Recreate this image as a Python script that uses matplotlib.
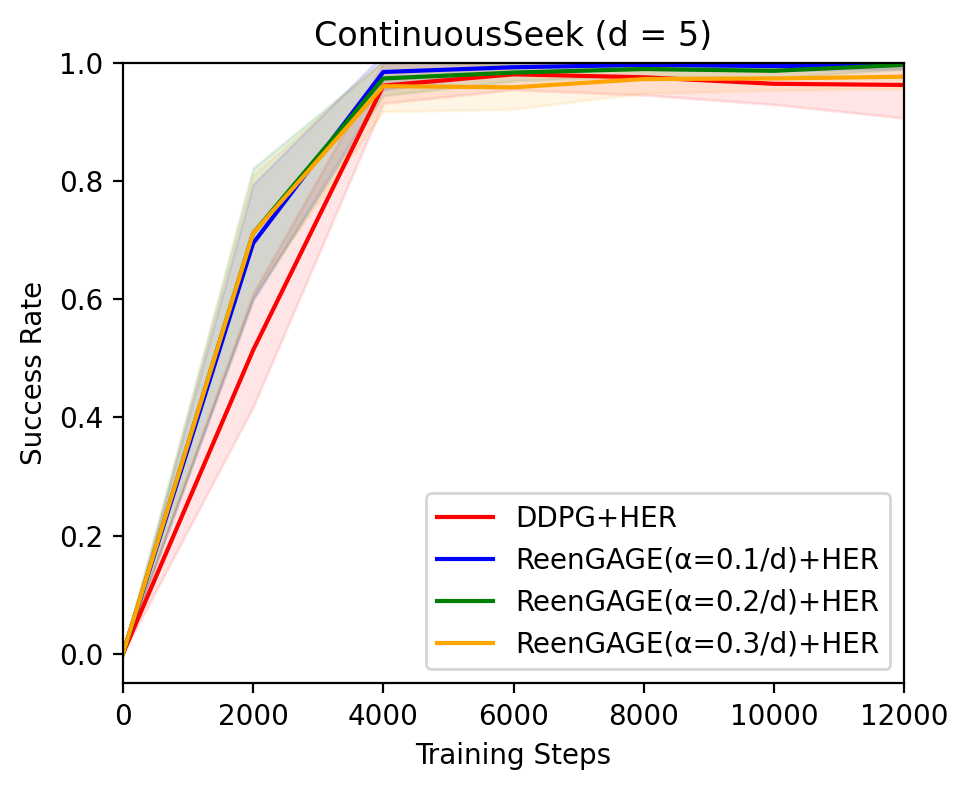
import matplotlib
matplotlib.use("Agg")
import matplotlib.pyplot as plt
import numpy as np

steps = [0, 2000, 4000, 6000, 8000, 10000, 12000]

labels = ["DDPG+HER", "ReenGAGE(α=0.1/d)+HER", "ReenGAGE(α=0.2/d)+HER", "ReenGAGE(α=0.3/d)+HER"]
colors = ["red", "blue", "green", "orange"]

ddpg_mean = [0.0, 0.514, 0.962, 0.981, 0.976, 0.965, 0.963]
ddpg_low = [0.0, 0.418, 0.932, 0.955, 0.946, 0.930, 0.907]
ddpg_high = [0.0, 0.610, 1.000, 1.008, 1.005, 1.000, 1.020]

a1_mean = [0.0, 0.695, 0.985, 0.993, 0.997, 0.995, 0.997]
a1_low = [0.0, 0.600, 0.955, 0.985, 0.990, 0.988, 0.990]
a1_high = [0.0, 0.795, 1.015, 1.003, 1.004, 1.002, 1.004]

a2_mean = [0.0, 0.712, 0.974, 0.984, 0.990, 0.987, 0.997]
a2_low = [0.0, 0.600, 0.945, 0.970, 0.978, 0.975, 0.990]
a2_high = [0.0, 0.822, 1.003, 0.998, 1.002, 0.999, 1.004]

a3_mean = [0.0, 0.712, 0.961, 0.959, 0.973, 0.974, 0.977]
a3_low = [0.0, 0.610, 0.918, 0.922, 0.949, 0.954, 0.957]
a3_high = [0.0, 0.810, 1.004, 0.996, 0.997, 0.994, 0.997]

means = [ddpg_mean, a1_mean, a2_mean, a3_mean]
lows = [ddpg_low, a1_low, a2_low, a3_low]
highs = [ddpg_high, a1_high, a2_high, a3_high]

fig = plt.figure(figsize=(4.84, 3.945), dpi=200)
ax = fig.add_axes([0.127, 0.134, 0.807, 0.786])

for m, lo, hi, c, lab in zip(means, lows, highs, colors, labels):
    ax.plot(steps, m, color=c, linewidth=1.5, label=lab)
    ax.fill_between(steps, lo, hi, color=c, alpha=0.1)

ax.set_xlim(0, 12000)
ax.set_ylim(-0.05, 1.0)
ax.set_xticks([0, 2000, 4000, 6000, 8000, 10000, 12000])
ax.set_yticks([0.0, 0.2, 0.4, 0.6, 0.8, 1.0])
ax.tick_params(labelsize=10)
ax.set_xlabel("Training Steps", fontsize=10)
ax.set_ylabel("Success Rate", fontsize=10)
ax.set_title("ContinuousSeek (d = 5)", fontsize=12)
ax.legend(loc="lower right", fontsize=10)

fig.savefig("out.png", dpi=200)
